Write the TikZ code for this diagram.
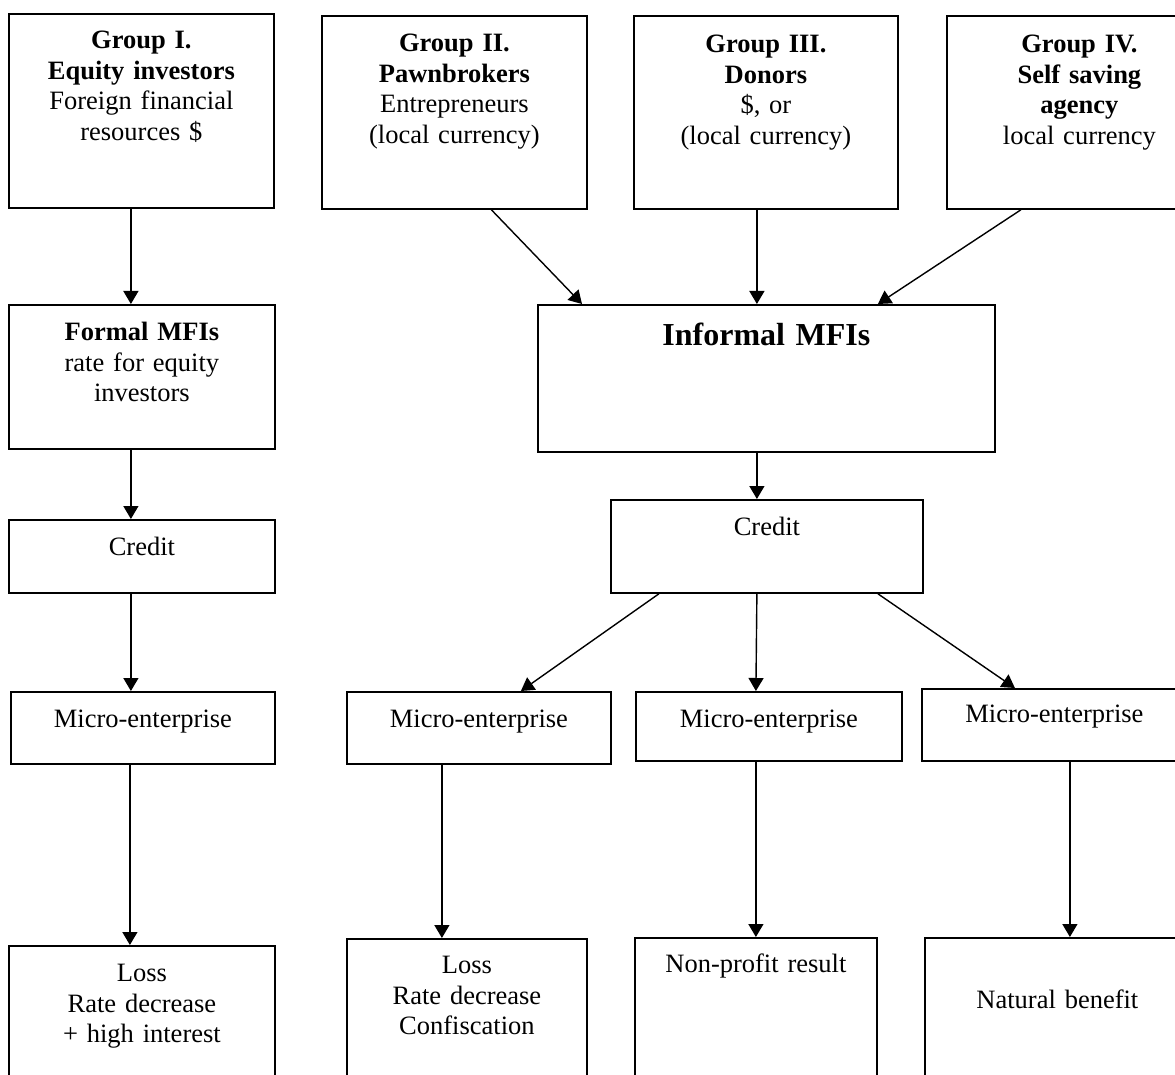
\documentclass[tikz,border=0pt]{standalone}
\usepackage{fontspec}
\setmainfont{Liberation Serif}
\usepackage{tikz}
\usetikzlibrary{arrows.meta}
\newcommand{\cellfont}{\fontsize{26.5pt}{30.5pt}\selectfont}
\newcommand{\bigcellfont}{\fontsize{32pt}{36pt}\selectfont\bfseries}

\begin{document}
\begin{tikzpicture}[
  x=1pt, y=-1pt,
  cell/.style={
    rectangle,
    draw=black,
    line width=1.8pt,
    inner sep=0pt,
    anchor=north west,
    align=center,
    font=\cellfont
  },
  flow/.style={-{Triangle[length=13pt,width=15pt]}, line width=1.4pt, draw=black}
]
\clip (0,0) rectangle (1175,1075);

% sources
\node[cell, text width=265pt, text height=35pt, text depth=159pt] (g1) at (8,13)
  {\textbf{Group I.}\\\textbf{Equity investors}\\Foreign financial\\resources \$};
\node[cell, text width=265pt, text height=36pt, text depth=157pt] (g2) at (321,15)
  {\textbf{Group II.}\\\textbf{Pawnbrokers}\\Entrepreneurs\\(local currency)};
\node[cell, text width=264pt, text height=37pt, text depth=156pt] (g3) at (633,15)
  {\textbf{Group III.}\\\textbf{Donors}\\\$, or\\(local currency)};
\node[cell, text width=265pt, text height=37pt, text depth=156pt] (g4) at (946,15)
  {\textbf{Group IV.}\\\textbf{Self saving}\\\textbf{agency}\\local currency};

% institutions
\node[cell, text width=266pt, text height=36pt, text depth=108pt] (formal) at (8,304)
  {\textbf{Formal MFIs}\\rate for equity\\investors};
\node[cell, text width=457pt, text height=41pt, text depth=106pt, font=\bigcellfont] (informal) at (537,304)
  {Informal MFIs};

% credit
\node[cell, text width=266pt, text height=36pt, text depth=37pt] (credL) at (8,519) {Credit};
\node[cell, text width=312pt, text height=36pt, text depth=57pt] (credR) at (610,499) {Credit};

% micro-enterprises
\node[cell, text width=264pt, text height=36pt, text depth=36pt] (me1) at (10,691) {Micro-enterprise};
\node[cell, text width=264pt, text height=36pt, text depth=36pt] (me2) at (346,691) {Micro-enterprise};
\node[cell, text width=266pt, text height=36pt, text depth=33pt] (me3) at (635,691) {Micro-enterprise};
\node[cell, text width=265pt, text height=34pt, text depth=38pt] (me4) at (921,688) {Micro-enterprise};

% results
\node[cell, text width=266pt, text height=36pt, text depth=114pt] (loss1) at (8,945)
  {Loss\\Rate decrease\\+ high interest};
\node[cell, text width=240pt, text height=35pt, text depth=122pt] (loss2) at (346,938)
  {Loss\\Rate decrease\\Confiscation};
\node[cell, text width=242pt, text height=35pt, text depth=125pt] (nonprofit) at (634,937)
  {Non-profit result};
\node[cell, text width=265pt, text height=71pt, text depth=89pt] (natural) at (924,937)
  {Natural benefit};

% connectors
\draw[flow] ([xshift=-10.5pt]g1.south) -- ([xshift=-11pt]formal.north);
\draw[flow] ([xshift=37pt]g2.south) -- ([xshift=45pt]informal.north west);
\draw[flow] ([xshift=-9pt]g3.south) -- ([xshift=-9.5pt]informal.north);
\draw[flow] ([xshift=-58.5pt]g4.south) -- ([xshift=111.5pt]informal.north);

\draw[flow] ([xshift=-11pt]formal.south) -- ([xshift=-11pt]credL.north);
\draw[flow] ([xshift=-9.5pt]informal.south) -- ([xshift=-10pt]credR.north);

\draw[flow] ([xshift=-11pt]credL.south) -- ([xshift=-12pt]me1.north);
\draw[flow] ([xshift=-108pt]credR.south) -- ([xshift=42pt]me2.north);
\draw[flow] ([xshift=-10pt]credR.south) -- ([xshift=-13pt]me3.north);
\draw[flow] ([xshift=111pt]credR.south) -- ([xshift=-39.5pt]me4.north);

\draw[flow] ([xshift=-13pt]me1.south) -- ([xshift=-12pt]loss1.north);
\draw[flow] ([xshift=-37pt]me2.south) -- ([xshift=-25pt]loss2.north);
\draw[flow] ([xshift=-13pt]me3.south) -- (nonprofit.north);
\draw[flow] ([xshift=15.5pt]me4.south) -- ([xshift=12.5pt]natural.north);

\end{tikzpicture}
\end{document}
